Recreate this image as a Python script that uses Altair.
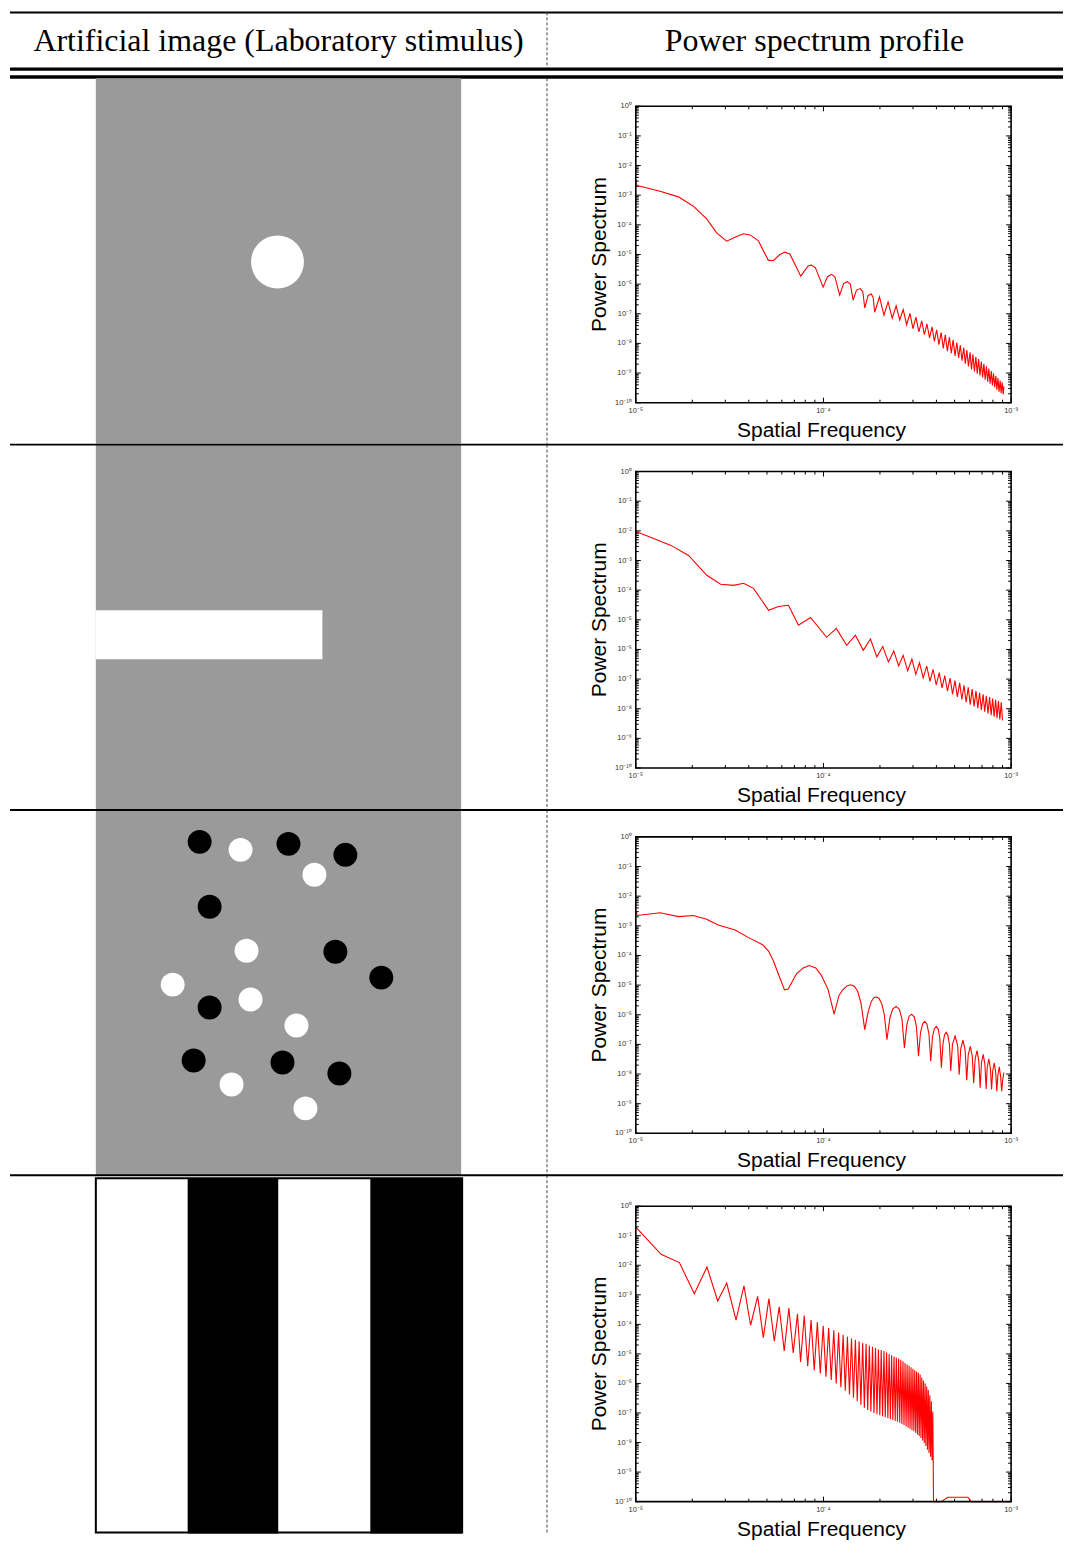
import altair as alt
import pandas as pd

# ---------------- text ----------------
HEAD_LEFT = "Artificial image (Laboratory stimulus)"
HEAD_RIGHT = "Power spectrum profile"
X_TITLE = "Spatial Frequency"
Y_TITLE = "Power Spectrum"

Y_EXP = [0, -1, -2, -3, -4, -5, -6, -7, -8, -9, -10]
Y_LABELS = ["10⁰", "10⁻¹", "10⁻²", "10⁻³", "10⁻⁴", "10⁻⁵", "10⁻⁶", "10⁻⁷", "10⁻⁸", "10⁻⁹", "10⁻¹⁰"]
X_EXP = [-5, -4, -3]
X_LABELS = ["10⁻⁵", "10⁻⁴", "10⁻³"]
MINOR_MULT = [2, 3, 4, 5, 6, 7, 8, 9]

F_UNIT = 1e-5  # frequencies below are in units of 1e-5; powers are log10 values

# ---------------- row 1 : single disc ----------------
r1_f = [1.0, 1.016, 1.347, 1.686, 2.026, 2.386, 2.697, 3.05, 3.38, 3.74, 4.06, 4.49, 5.08, 5.40,
        5.86, 6.23, 6.62, 7.57, 8.28, 8.63, 9.06, 9.96, 10.5, 11.03, 11.5, 12.2, 12.8, 13.4, 13.9,
        14.4, 15.0, 15.7, 16.2, 16.6, 17.3, 18.0, 18.4, 18.75, 19.9, 21.0, 22.1, 23.25, 24.4, 25.5,
        26.6, 27.75, 28.9, 30.0, 31.1, 32.25, 33.4, 34.5, 35.6, 36.75, 37.9, 39.0, 40.1, 41.25, 42.4,
        43.5, 44.6, 45.75, 46.9, 48.0, 49.1, 50.25, 51.4, 52.5, 53.6, 54.75, 55.9, 57.0, 58.1, 59.25,
        60.4, 61.5, 62.6, 63.75, 64.9, 66.0, 67.1, 68.25, 69.4, 70.5, 71.6, 72.75, 73.9, 75.0, 76.1,
        77.25, 78.4, 79.5, 80.6, 81.75, 82.9, 84.0, 85.1, 86.25, 87.4, 88.5, 89.6, 90.75, 91.5]
r1_p = [-2.56, -2.67, -2.865, -3.056, -3.37, -3.80, -4.27, -4.55, -4.42, -4.30, -4.34, -4.53, -5.19, -5.21,
        -5.0, -4.92, -4.98, -5.73, -5.39, -5.36, -5.45, -6.10, -5.75, -5.67, -5.75, -6.37, -5.98, -5.92, -6.0,
        -6.54, -6.2, -6.15, -6.25, -6.80, -6.38, -6.33, -6.45, -6.95, -6.43, -7.05, -6.60, -7.15, -6.73, -7.21,
        -6.86, -7.37, -6.99, -7.50, -7.11, -7.61, -7.24, -7.70, -7.34, -7.81, -7.44, -7.93, -7.54, -8.04, -7.63,
        -8.17, -7.71, -8.26, -7.79, -8.33, -7.88, -8.42, -7.97, -8.49, -8.06, -8.58, -8.15, -8.68, -8.22, -8.78,
        -8.30, -8.88, -8.37, -8.95, -8.45, -9.02, -8.53, -9.08, -8.61, -9.15, -8.69, -9.22, -8.77, -9.29, -8.85,
        -9.36, -8.93, -9.42, -9.01, -9.48, -9.09, -9.56, -9.17, -9.63, -9.25, -9.68, -9.31, -9.72, -9.45]

# ---------------- row 2 : bar ----------------
r2_f = [1.0, 1.17, 1.54, 1.91, 2.39, 2.83, 3.32, 3.75, 4.24, 5.10, 5.76, 6.51, 7.36, 8.53, 10.4, 11.7,
        13.3, 14.8, 16.3, 17.8, 19.25, 20.7, 22.2, 23.7, 25.15, 26.6, 28.1, 29.6, 31.05, 32.5, 34.0, 35.5,
        36.95, 38.4, 39.9, 41.4, 42.85, 44.3, 45.8, 47.3, 48.75, 50.2, 51.7, 53.2, 54.65, 56.1, 57.6, 59.1,
        60.55, 62.0, 63.5, 65.0, 66.45, 67.9, 69.4, 70.9, 72.35, 73.8, 75.3, 76.8, 78.25, 79.7, 81.2, 82.7,
        84.15, 85.6, 87.1, 88.6, 90.05]
r2_p = [-2.02, -2.19, -2.49, -2.83, -3.50, -3.80, -3.84, -3.77, -3.94, -4.68, -4.55, -4.51, -5.18, -4.92, -5.59, -5.29,
        -5.86, -5.52, -6.03, -5.65, -6.25, -5.9, -6.42, -6.05, -6.56, -6.2, -6.72, -6.33, -6.84, -6.45, -6.96, -6.56,
        -7.08, -6.67, -7.2, -6.78, -7.3, -6.88, -7.41, -6.97, -7.51, -7.05, -7.6, -7.13, -7.69, -7.21, -7.78, -7.28,
        -7.86, -7.34, -7.92, -7.4, -7.98, -7.46, -8.04, -7.51, -8.1, -7.56, -8.16, -7.61, -8.22, -7.66, -8.27, -7.7,
        -8.32, -7.74, -8.36, -7.78, -8.4]

# ---------------- row 3 : scattered discs ----------------
r3_f = [1.0, 1.016, 1.347, 1.686, 2.026, 2.386, 2.75, 3.38, 3.97, 4.74, 5.1, 5.40, 5.86, 6.2, 6.49, 7.18, 7.8,
        8.4, 9.1, 9.75, 10.6, 11.4, 12.1, 12.7, 13.4, 14.0, 14.6, 15.2, 15.85, 16.6, 17.3, 18.0, 18.6, 19.2,
        19.8, 20.5, 21.1, 21.8, 22.6, 23.4, 24.4, 25.4, 26.2, 27.0, 27.8, 28.6, 29.5, 30.5, 31.3, 32.1, 32.9,
        33.8, 34.7, 35.6, 36.5, 37.3, 38.1, 39.0, 39.9, 40.9, 41.7, 42.5, 43.4, 44.2, 45.1, 46.0, 46.9, 47.7,
        48.7, 50.3, 51.9, 52.9, 53.9, 55.4, 56.9, 58.0, 59.1, 60.6, 62.1, 63.2, 64.3, 65.8, 67.3, 68.4, 69.5,
        71.0, 72.5, 73.6, 74.6, 76.1, 77.6, 78.7, 79.8, 81.3, 82.8, 83.9, 85.0, 86.5, 88.0, 89.1, 90.2, 91.5]
r3_p = [-2.47, -2.65, -2.56, -2.69, -2.65, -2.78, -2.97, -3.14, -3.39, -3.64, -3.85, -4.17, -4.76, -5.16, -5.13, -4.62, -4.42,
        -4.34, -4.42, -4.67, -5.16, -5.98, -5.35, -5.15, -5.02, -4.99, -5.04, -5.2, -5.61, -6.50, -5.9, -5.55, -5.42, -5.40,
        -5.45, -5.65, -6.0, -6.84, -6.1, -5.8, -5.72, -5.82, -6.15, -7.12, -6.35, -6.05, -5.98, -6.08, -6.4, -7.40, -6.6,
        -6.3, -6.22, -6.32, -6.65, -7.57, -6.75, -6.47, -6.39, -6.49, -6.8, -7.79, -6.95, -6.67, -6.59, -6.69, -7.0, -7.90,
        -7.0, -6.72, -7.05, -8.02, -7.15, -6.86, -7.2, -8.21, -7.35, -7.07, -7.4, -8.30, -7.5, -7.21, -7.55, -8.46, -7.62,
        -7.34, -7.67, -8.50, -7.78, -7.49, -7.82, -8.52, -7.9, -7.62, -7.95, -8.58, -8.04, -7.76, -8.1, -8.58, -8.2, -7.95]

# ---------------- row 4 : square-wave grating ----------------
r4_f = [1.0, 1.364, 1.707, 2.05, 2.395, 2.73, 3.05, 3.42, 3.77, 4.09, 4.46, 4.78, 5.12, 5.47, 5.81, 6.18, 6.54,
        6.90, 7.27, 7.55, 7.9, 8.24, 8.59, 8.93, 9.28, 9.62, 9.97, 10.31, 10.66, 11.0, 11.35, 11.69, 12.04,
        12.38, 12.73, 13.07, 13.42, 13.76, 14.11, 14.45, 14.8, 15.14, 15.49, 15.83, 16.18, 16.52, 16.87,
        17.21, 17.56, 17.9, 18.25, 18.59, 18.94, 19.28, 19.63, 19.97, 20.32, 20.66, 21.01, 21.35, 21.7,
        22.04, 22.39, 22.73, 23.08, 23.42, 23.77, 24.11, 24.46, 24.8, 25.15, 25.49, 25.84, 26.18, 26.53,
        26.87, 27.22, 27.56, 27.91, 28.25, 28.6, 28.94, 29.29, 29.63, 29.98, 30.32, 30.67, 31.01, 31.36,
        31.7, 32.05, 32.39, 32.74, 33.08, 33.43, 33.77, 34.12, 34.46, 34.81, 35.15, 35.5, 35.84, 36.19,
        36.53, 36.88, 37.22, 37.57, 37.91, 38.26, 38.6, 42.4, 46.0, 58.9, 61.3, 100.0]
r4_p = [-0.71, -1.63, -1.91, -2.96, -2.06, -3.21, -2.60, -3.86, -2.70, -4.03, -3.05, -4.45, -3.13, -4.57, -3.41, -4.90, -3.45,
        -4.97, -3.64, -5.27, -3.70, -5.42, -3.85, -5.55, -3.93, -5.66, -4.05, -5.77, -4.12, -5.88, -4.2, -6.0, -4.28,
        -6.13, -4.35, -6.25, -4.42, -6.37, -4.48, -6.48, -4.52, -6.6, -4.57, -6.72, -4.62, -6.82, -4.66,
        -6.9, -4.72, -6.95, -4.76, -7.0, -4.8, -7.04, -4.85, -7.08, -4.87, -7.11, -4.9, -7.14, -4.95,
        -7.18, -5.0, -7.21, -5.05, -7.24, -5.09, -7.27, -5.12, -7.3, -5.16, -7.33, -5.2, -7.37, -5.25,
        -7.41, -5.31, -7.46, -5.36, -7.5, -5.4, -7.53, -5.45, -7.58, -5.5, -7.62, -5.55, -7.67, -5.6,
        -7.73, -5.64, -7.78, -5.7, -7.85, -5.8, -7.93, -5.9, -8.02, -6.0, -8.12, -6.1, -8.24, -6.22,
        -8.35, -6.4, -8.48, -6.6, -8.6, -6.95, -10.5, -10.5, -9.85, -9.85, -10.5, -10.5]

# ---------------- stimulus images (image pixel coords, 0..366) ----------------
GRAY = "#9a9a9a"
r2_bar_x = [0, 227]
r2_bar_y = [166, 215]
r3_black_x = [104, 193, 250, 114, 240, 286, 114, 98, 187, 244]
r3_black_y = [32, 34, 45, 97, 142, 168, 198, 251, 253, 264]
r3_white_x = [145, 219, 151, 77, 155, 201, 136, 210]
r3_white_y = [40, 65, 141, 175, 190, 216, 275, 299]
r4_stripe_x0 = [0, 92, 183, 275]
r4_stripe_x1 = [92, 183, 275, 367]
r4_stripe_c = ["white", "black", "white", "black"]

# ---------------- layout ----------------
W = 1057
COL_X = 540
IMG_X0 = 88
FX0, FX1 = 629, 1005
SERIF = "Liberation Serif"
SANS = "Liberation Sans"
ONE = pd.DataFrame({"k": [0]})


def image_layer(rects, circles, y0, size, circ_size, border=False, y_end=None):
    xs = alt.Scale(domain=[0, size], range=[IMG_X0, IMG_X0 + size])
    ys = alt.Scale(domain=[0, size], range=[y0, y0 + size])
    layers = [alt.Chart(pd.DataFrame(rects)).mark_rect(strokeWidth=0).encode(
        x=alt.X("x0:Q", scale=xs, axis=None), x2="x1:Q",
        y=alt.Y("y0:Q", scale=ys, axis=None), y2="y1:Q",
        color=alt.Color("c:N", scale=None))]
    if circles is not None:
        layers.append(alt.Chart(pd.DataFrame(circles)).mark_circle(opacity=1, size=circ_size).encode(
            x=alt.X("x:Q", scale=xs, axis=None), y=alt.Y("y:Q", scale=ys, axis=None),
            color=alt.Color("c:N", scale=None)))
    if border:
        layers.append(alt.Chart(pd.DataFrame({"x0": [0], "x1": [size], "y0": [0], "y1": [y_end]}))
                      .mark_rect(fillOpacity=0, stroke="black", strokeWidth=2).encode(
            x=alt.X("x0:Q", scale=xs, axis=None), x2="x1:Q",
            y=alt.Y("y0:Q", scale=ys, axis=None), y2="y1:Q"))
    return alt.layer(*layers)


def spectrum_layer(f, p, top, bottom):
    xs = alt.Scale(type="log", domain=[1e-5, 1e-3], range=[FX0, FX1])
    ys = alt.Scale(type="log", domain=[1e-10, 1], range=[bottom, top], clamp=True)
    pts = list(zip(f, p))
    df = pd.DataFrame({"f": [a * F_UNIT for a, b in pts], "p": [10.0 ** b for a, b in pts],
                       "i": list(range(len(pts)))})
    X = lambda fld: alt.X(fld, scale=xs, axis=None)
    Y = lambda fld: alt.Y(fld, scale=ys, axis=None)
    ymaj = pd.DataFrame({"v": [10.0 ** e for e in Y_EXP], "lab": Y_LABELS})
    ymin = pd.DataFrame({"v": [m * 10.0 ** e for e in range(-10, 0) for m in MINOR_MULT]})
    xmaj = pd.DataFrame({"v": [10.0 ** e for e in X_EXP], "lab": X_LABELS})
    xmin = pd.DataFrame({"v": [m * 10.0 ** e for e in (-5, -4) for m in MINOR_MULT]})
    layers = []
    for dfv, ln in ((ymaj, 5), (ymin, 3)):
        layers.append(alt.Chart(dfv).mark_rule(color="black", strokeWidth=1).encode(
            y=Y("v:Q"), x=alt.value(FX0), x2=alt.value(FX0 + ln)))
        layers.append(alt.Chart(dfv).mark_rule(color="black", strokeWidth=1).encode(
            y=Y("v:Q"), x=alt.value(FX1 - ln), x2=alt.value(FX1)))
    for dfv, ln in ((xmaj, 5), (xmin, 3)):
        layers.append(alt.Chart(dfv).mark_rule(color="black", strokeWidth=1).encode(
            x=X("v:Q"), y=alt.value(bottom), y2=alt.value(bottom - ln)))
        layers.append(alt.Chart(dfv).mark_rule(color="black", strokeWidth=1).encode(
            x=X("v:Q"), y=alt.value(top), y2=alt.value(top + ln)))
    layers.append(alt.Chart(df).mark_line(color="#ff0000", strokeWidth=1.1).encode(
        x=X("f:Q"), y=Y("p:Q"), order="i:Q"))
    layers.append(alt.Chart(pd.DataFrame({"a": [1e-5], "b": [1e-3], "c": [1e-10], "d": [1.0]}))
                  .mark_rect(fillOpacity=0, stroke="black", strokeWidth=1.6).encode(
        x=X("a:Q"), x2="b:Q", y=Y("c:Q"), y2="d:Q"))
    layers.append(alt.Chart(ymaj).mark_text(align="right", baseline="middle", fontSize=7.5,
                                            font=SANS, color="#333333").encode(
        y=Y("v:Q"), x=alt.value(FX0 - 4), text="lab:N"))
    layers.append(alt.Chart(xmaj).mark_text(align="center", baseline="top", fontSize=7.5,
                                            font=SANS, color="#333333").encode(
        x=X("v:Q"), y=alt.value(bottom + 4), text="lab:N"))
    layers.append(alt.Chart(ONE).mark_text(text=X_TITLE, fontSize=21, font=SANS, color="black",
                                           align="center", baseline="middle").encode(
        x=alt.value((FX0 + FX1) / 2 - 2), y=alt.value(bottom + 28)))
    layers.append(alt.Chart(ONE).mark_text(text=Y_TITLE, fontSize=21, font=SANS, color="black",
                                           align="center", baseline="middle", angle=270).encode(
        x=alt.value(FX0 - 36), y=alt.value((top + bottom) / 2)))
    return alt.layer(*layers)


def decor_layer(height, separator):
    layers = [alt.Chart(ONE).mark_rule(color="#444444", strokeWidth=1, strokeDash=[3, 2]).encode(
        x=alt.value(COL_X), y=alt.value(0), y2=alt.value(height))]
    if separator:
        layers.append(alt.Chart(ONE).mark_rule(color="black", strokeWidth=2).encode(
            x=alt.value(2), x2=alt.value(W), y=alt.value(0)))
    return alt.layer(*layers)


def row(img, spec, height, separator):
    return alt.layer(img, spec, decor_layer(height, separator)).resolve_scale(
        x="independent", y="independent").properties(width=W, height=height)


# header
header = alt.layer(
    alt.Chart(ONE).mark_rule(color="black", strokeWidth=2).encode(x=alt.value(2), x2=alt.value(W), y=alt.value(3)),
    alt.Chart(ONE).mark_rule(color="black", strokeWidth=3.3).encode(x=alt.value(2), x2=alt.value(W), y=alt.value(59.7)),
    alt.Chart(ONE).mark_rule(color="black", strokeWidth=3.3).encode(x=alt.value(2), x2=alt.value(W), y=alt.value(67.7)),
    alt.Chart(ONE).mark_rule(color="#444444", strokeWidth=1, strokeDash=[3, 2]).encode(
        x=alt.value(COL_X), y=alt.value(3), y2=alt.value(59)),
    alt.Chart(ONE).mark_text(text=HEAD_LEFT, font=SERIF, fontSize=32, color="black", align="center",
                             baseline="alphabetic").encode(x=alt.value(271), y=alt.value(42)),
    alt.Chart(ONE).mark_text(text=HEAD_RIGHT, font=SERIF, fontSize=32, color="black", align="center",
                             baseline="alphabetic").encode(x=alt.value(808), y=alt.value(42)),
).properties(width=W, height=69)

# row 1
img1 = image_layer({"x0": [0], "x1": [366], "y0": [0], "y1": [366], "c": [GRAY]},
                   {"x": [182], "y": [184], "c": ["white"]}, 0, 366, 2809)
row1 = row(img1, spectrum_layer(r1_f, r1_p, 28, 325), 367, False)

# row 2
img2 = image_layer({"x0": [0, r2_bar_x[0]], "x1": [366, r2_bar_x[1]], "y0": [0, r2_bar_y[0]],
                    "y1": [366, r2_bar_y[1]], "c": [GRAY, "white"]}, None, 0, 366, 0)
row2 = row(img2, spectrum_layer(r2_f, r2_p, 27, 324), 366, True)

# row 3
img3 = image_layer({"x0": [0], "x1": [366], "y0": [0], "y1": [366], "c": [GRAY]},
                   {"x": r3_black_x + r3_white_x, "y": r3_black_y + r3_white_y,
                    "c": ["black"] * len(r3_black_x) + ["white"] * len(r3_white_x)}, 0, 366, 576)
row3 = row(img3, spectrum_layer(r3_f, r3_p, 27, 324), 366, True)

# row 4 (the page cuts the table a few pixels above the image's lower edge)
R4_H = 359
img4 = image_layer({"x0": r4_stripe_x0, "x1": r4_stripe_x1, "y0": [0] * 4, "y1": [R4_H - 3] * 4, "c": r4_stripe_c},
                   None, 3, 367, 0, border=True, y_end=R4_H - 4)
row4 = row(img4, spectrum_layer(r4_f, r4_p, 31, 327), R4_H, True)

chart = alt.vconcat(header, row1, row2, row3, row4, spacing=0, bounds="flush").properties(
    padding=0).configure_view(stroke=None)

chart.save("out.html", embed_options={"renderer": "svg", "actions": False})
